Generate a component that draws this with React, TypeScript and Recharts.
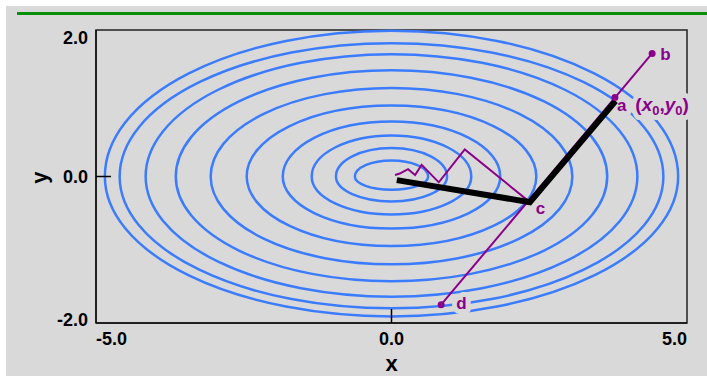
import React from 'react';
import { ScatterChart, Scatter, XAxis, YAxis, ReferenceArea, Label } from 'recharts';

// ---- data ----
const xDomain = [-5, 5];
const yDomain = [-2, 2];
const xTicks = [-5, 0, 5];
const yTicks = [-2, 0, 2];

// contour ellipses centred on the origin (semi-axes, data units)
const contourRx = [0.62, 0.94, 1.35, 1.84, 2.45, 3.06, 3.65, 4.16, 4.6, 4.85];
const contourRyTop = [0.22, 0.39, 0.56, 0.75, 0.97, 1.21, 1.45, 1.67, 1.82, 1.99];
const contourRyBottom = [0.18, 0.34, 0.52, 0.71, 0.95, 1.2, 1.43, 1.64, 1.8, 1.91];

// line search direction b -> d
const searchX = [4.41, 0.84];
const searchY = [1.68, -1.75];

// zig-zag path (purple) from c toward the minimum
const zigzagX = [2.34, 1.24, 0.8, 0.51, 0.4, 0.28, 0.14, 0.06];
const zigzagY = [-0.35, 0.37, -0.08, 0.16, 0.02, 0.1, 0.04, 0.02];

// thick black path a -> c -> minimum
const descentX = [3.79, 2.34, 0.09];
const descentY = [1.03, -0.35, -0.05];

// marked points
const markerX = [4.41, 3.78, 0.84];
const markerY = [1.68, 1.08, -1.75];

// point labels
const labelNames = ['b', 'a', 'c', 'd'];
const labelX = [4.41, 3.78, 2.34, 0.84];
const labelY = [1.68, 1.08, -0.35, -1.75];

// ---- styles ----
const BLUE = '#3b7cff';
const PURPLE = '#8b008b';
const BG = '#d9d9d9';
const FONT = '"Liberation Sans", Arial, Helvetica, sans-serif';
const labelOffsets: Record<string, { dx: number; dy: number }> = {
  b: { dx: 8, dy: 7 },
  a: { dx: 2, dy: 14 },
  c: { dx: 6, dy: 12 },
  d: { dx: 15, dy: 4 },
};

const zip = (xs: number[], ys: number[]) => xs.map((x, i) => ({ x, y: ys[i] }));

const contours = contourRx.map((rx, i) => [
  { x: -rx, y: 0 },
  { x: rx, y: 0 },
  { x: 0, y: contourRyTop[i] },
  { x: 0, y: -contourRyBottom[i] },
]);
const searchData = zip(searchX, searchY);
const zigzagData = zip(zigzagX, zigzagY);
const descentData = zip(descentX, descentY);
const markerData = zip(markerX, markerY);
const labelData = labelNames.map((name, i) => ({ x: labelX[i], y: labelY[i], name }));

const renderContour = (props: any) => {
  const pts = props.points;
  if (!pts || pts.length < 4) return <g />;
  const [l, r, t, b] = pts;
  const cy = l.y;
  const rx = (r.x - l.x) / 2;
  const ryT = cy - t.y;
  const ryB = b.y - cy;
  const d = `M${l.x},${cy} A${rx},${ryT} 0 0 1 ${r.x},${cy} A${rx},${ryB} 0 0 1 ${l.x},${cy} Z`;
  return <path d={d} fill="none" stroke={BLUE} strokeWidth={2.5} />;
};

const Empty = () => <g />;

const LabelText = ({ cx, cy, payload, halo }: any) => {
  const name = payload.name;
  const off = labelOffsets[name];
  const haloProps = halo
    ? { stroke: BG, strokeWidth: 10, strokeLinejoin: 'round' as const, fill: BG }
    : { fill: PURPLE };
  return (
    <text
      x={cx + off.dx}
      y={cy + off.dy}
      fontFamily={FONT}
      fontWeight="bold"
      fontSize={17}
      {...haloProps}
    >
      <tspan>{name}</tspan>
      {name === 'a' && (
        <>
          <tspan dx={9} fontSize={19}>(</tspan>
          <tspan fontSize={19} fontStyle="italic">x</tspan>
          <tspan fontSize={13} dy={4}>0</tspan>
          <tspan fontSize={19} dy={-4}>,</tspan>
          <tspan fontSize={19} fontStyle="italic">y</tspan>
          <tspan fontSize={13} dy={4}>0</tspan>
          <tspan fontSize={19} dy={-4}>)</tspan>
        </>
      )}
    </text>
  );
};

const Marker = ({ cx, cy }: any) => <circle cx={cx} cy={cy} r={3.5} fill={PURPLE} />;

const XTick = ({ x, y, payload }: any) => {
  const v = payload.value;
  const anchor = v === xDomain[0] ? 'start' : v === xDomain[1] ? 'end' : 'middle';
  return (
    <g>
      {v === 0 && <line x1={x} y1={y} x2={x} y2={y - 14} stroke="#000" strokeWidth={1.5} />}
      <text x={x} y={y + 22} textAnchor={anchor} fontFamily={FONT} fontWeight="bold" fontSize={18} fill="#000">
        {v.toFixed(1)}
      </text>
    </g>
  );
};

const YTick = ({ x, y, payload }: any) => {
  const v = payload.value;
  const dy = v === yDomain[1] ? 14 : v === yDomain[0] ? 3 : 6.5;
  return (
    <g>
      {v === 0 && <line x1={x} y1={y} x2={x + 15} y2={y} stroke="#000" strokeWidth={1.5} />}
      <text x={x - 8} y={y + dy} textAnchor="end" fontFamily={FONT} fontWeight="bold" fontSize={18} fill="#000">
        {v.toFixed(1)}
      </text>
    </g>
  );
};

const XTitle = ({ viewBox }: any) => (
  <text
    x={viewBox.x + viewBox.width / 2}
    y={viewBox.y + 48}
    textAnchor="middle"
    fontFamily={FONT}
    fontWeight="bold"
    fontSize={22}
    fill="#000"
  >
    x
  </text>
);

const YTitle = ({ viewBox }: any) => {
  const tx = viewBox.x + 46.5;
  const ty = viewBox.y + viewBox.height / 2 + 1;
  return (
    <text
      x={tx}
      y={ty}
      transform={`rotate(-90 ${tx} ${ty})`}
      textAnchor="middle"
      fontFamily={FONT}
      fontWeight="bold"
      fontSize={22}
      fill="#000"
    >
      y
    </text>
  );
};

export default function App() {
  return (
    <div style={{ position: 'fixed', left: 0, top: 0, width: 707, height: 376, background: '#fff', overflow: 'hidden' }}>
      <div style={{ position: 'absolute', left: 6, top: 6, right: 0, bottom: 0, background: BG }} />
      <div style={{ position: 'absolute', left: 17, top: 11.5, width: 690, height: 3, background: '#0a8f0a' }} />
      <div style={{ position: 'absolute', left: 0, top: 0 }}>
        <ScatterChart width={707} height={376} margin={{ top: 30, right: 20, bottom: 0, left: 0 }}>
          <XAxis
            type="number"
            dataKey="x"
            domain={xDomain}
            ticks={xTicks}
            height={53}
            tickSize={0}
            tickMargin={0}
            tickLine={false}
            axisLine={{ stroke: '#111', strokeWidth: 1.5 }}
            tick={(p: any) => <XTick {...p} />}
            interval={0}
          >
            <Label content={(p: any) => <XTitle {...p} />} />
          </XAxis>
          <YAxis
            type="number"
            dataKey="y"
            domain={yDomain}
            ticks={yTicks}
            width={96}
            tickSize={0}
            tickMargin={0}
            tickLine={false}
            axisLine={{ stroke: '#111', strokeWidth: 1.5 }}
            tick={(p: any) => <YTick {...p} />}
            interval={0}
          >
            <Label content={(p: any) => <YTitle {...p} />} />
          </YAxis>
          <ReferenceArea
            x1={xDomain[0]}
            x2={xDomain[1]}
            y1={yDomain[0]}
            y2={yDomain[1]}
            fill="none"
            fillOpacity={0}
            stroke="#222"
            strokeWidth={1.5}
          />
          {contours.map((c, i) => (
            <Scatter
              key={`c${i}`}
              data={c}
              isAnimationActive={false}
              shape={<Empty />}
              line={renderContour}
              lineType="joint"
            />
          ))}
          <Scatter data={labelData} isAnimationActive={false} shape={(p: any) => <LabelText {...p} halo />} />
          <Scatter
            data={searchData}
            isAnimationActive={false}
            shape={<Empty />}
            line={{ stroke: PURPLE, strokeWidth: 2 }}
            lineType="joint"
          />
          <Scatter
            data={zigzagData}
            isAnimationActive={false}
            shape={<Empty />}
            line={{ stroke: PURPLE, strokeWidth: 2 }}
            lineType="joint"
          />
          <Scatter
            data={descentData}
            isAnimationActive={false}
            shape={<Empty />}
            line={{ stroke: '#000', strokeWidth: 6 }}
            lineType="joint"
          />
          <Scatter data={markerData} isAnimationActive={false} shape={(p: any) => <Marker {...p} />} />
          <Scatter data={labelData} isAnimationActive={false} shape={(p: any) => <LabelText {...p} />} />
        </ScatterChart>
      </div>
    </div>
  );
}
